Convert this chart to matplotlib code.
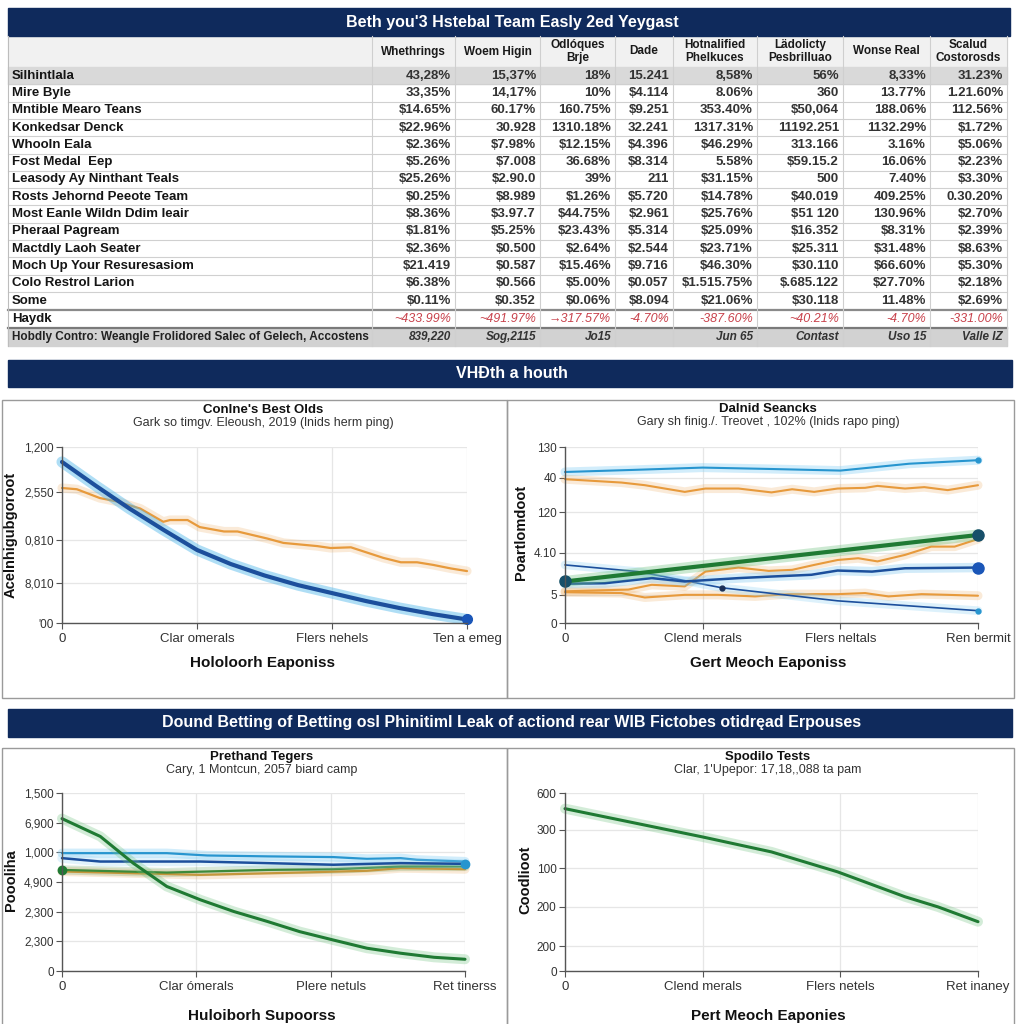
import matplotlib
matplotlib.use("Agg")
import matplotlib.pyplot as plt
from matplotlib.patches import Rectangle

plt.rcParams["font.family"] = ["Liberation Sans Narrow", "Liberation Sans", "DejaVu Sans"]

NAVY = "#0f2a5c"
ORANGE = "#e79a3c"
LBLUE = "#2795cf"
DBLUE = "#1c4f9c"
GREEN = "#1f7a33"

# ---------------- table data ----------------
title_top = "Beth you'3 Hstebal Team Easly 2ed Yeygast"
col_headers = ["Whethrings", "Woem Higin", "Odlóques\nBrje", "Dade",
               "Hotnalified\nPhelkuces", "Lädolicty\nPesbrilluao", "Wonse Real",
               "Scalud\nCostorosds"]
row_labels = ["Silhintlala", "Mire Byle", "Mntible Mearo Teans", "Konkedsar Denck",
              "Whooln Eala", "Fost Medal  Eep", "Leasody Ay Ninthant Teals",
              "Rosts Jehornd Peeote Team", "Most Eanle Wildn Ddim Ieair",
              "Pheraal Pagream", "Mactdly Laoh Seater", "Moch Up Your Resuresasiom",
              "Colo Restrol Larion", "Some"]
table_values = [
    ["43,28%", "15,37%", "18%", "15.241", "8,58%", "56%", "8,33%", "31.23%"],
    ["33,35%", "14,17%", "10%", "$4.114", "8.06%", "360", "13.77%", "1.21.60%"],
    ["$14.65%", "60.17%", "160.75%", "$9.251", "353.40%", "$50,064", "188.06%", "112.56%"],
    ["$22.96%", "30.928", "1310.18%", "32.241", "1317.31%", "11192.251", "1132.29%", "$1.72%"],
    ["$2.36%", "$7.98%", "$12.15%", "$4.396", "$46.29%", "313.166", "3.16%", "$5.06%"],
    ["$5.26%", "$7.008", "36.68%", "$8.314", "5.58%", "$59.15.2", "16.06%", "$2.23%"],
    ["$25.26%", "$2.90.0", "39%", "211", "$31.15%", "500", "7.40%", "$3.30%"],
    ["$0.25%", "$8.989", "$1.26%", "$5.720", "$14.78%", "$40.019", "409.25%", "0.30.20%"],
    ["$8.36%", "$3.97.7", "$44.75%", "$2.961", "$25.76%", "$51 120", "130.96%", "$2.70%"],
    ["$1.81%", "$5.25%", "$23.43%", "$5.314", "$25.09%", "$16.352", "$8.31%", "$2.39%"],
    ["$2.36%", "$0.500", "$2.64%", "$2.544", "$23.71%", "$25.311", "$31.48%", "$8.63%"],
    ["$21.419", "$0.587", "$15.46%", "$9.716", "$46.30%", "$30.110", "$66.60%", "$5.30%"],
    ["$6.38%", "$0.566", "$5.00%", "$0.057", "$1.515.75%", "$.685.122", "$27.70%", "$2.18%"],
    ["$0.11%", "$0.352", "$0.06%", "$8.094", "$21.06%", "$30.118", "11.48%", "$2.69%"],
]
neg_label = "Haydk"
neg_values = ["~433.99%", "~491.97%", "→317.57%", "-4.70%", "-387.60%", "~40.21%",
              "-4.70%", "-331.00%"]
foot_label = "Hobdly Contro: Weangle Frolidored Salec of Gelech, Accostens"
foot_values = ["839,220", "Sog,2115", "Jo15", "", "Jun 65", "Contast", "Uso 15", "Valle IZ"]

banner2 = "VHÐth a houth"
banner3 = ("Dound Betting of Betting osl Phinitiml Leak of actiond rear WIB "
           "Fictobes otidręad Erpouses")

# ---------------- chart data ----------------
x_ticks = [0, 1, 2, 3]

# top left
tl_title = "Conlne's Best Olds"
tl_sub = "Gark so timgv. Eleoush, 2019 (lnids herm ping)"
tl_xlabels = ["0", "Clar omerals", "Flers nehels", "Ten a emeg"]
tl_ytick_pos = [0, 0.227, 0.472, 0.744, 1.0]
tl_ytick_lab = ["'00", "8,010", "0,810", "2,550", "1,200"]
tl_ylabel = "Acelnhigubgoroot"
tl_xlabel = "Hololoorh Eaponiss"
tl_blue_x = [0, 0.25, 0.5, 0.75, 1.0, 1.25, 1.5, 1.75, 2.0, 2.25, 2.5, 2.75, 3.0]
tl_blue_y = [0.915, 0.78, 0.65, 0.53, 0.415, 0.335, 0.27, 0.215, 0.17, 0.125, 0.085, 0.05, 0.02]
tl_orange_x = [0.0, 0.11, 0.28, 0.41, 0.58, 0.75, 0.80, 0.93, 1.02, 1.20, 1.30, 1.52, 1.64,
               1.89, 1.99, 2.14, 2.26, 2.38, 2.51, 2.63, 2.75, 2.88, 3.0]
tl_orange_y = [0.767, 0.76, 0.71, 0.69, 0.65, 0.575, 0.585, 0.585, 0.545, 0.52, 0.52, 0.48,
               0.455, 0.437, 0.426, 0.43, 0.40, 0.37, 0.345, 0.345, 0.33, 0.31, 0.295]

# top right
tr_title = "Dalnid Seancks"
tr_sub = "Gary sh finig./. Treovet , 102% (lnids rapo ping)"
tr_xlabels = ["0", "Clend merals", "Flers neltals", "Ren bermit"]
tr_ytick_pos = [0, 0.16, 0.40, 0.63, 0.824, 1.0]
tr_ytick_lab = ["0", "5", "4.10", "120", "40", "130"]
tr_ylabel = "Poartlomdoot"
tr_xlabel = "Gert Meoch Eaponiss"
tr_lblue_x = [0, 0.5, 1.0, 1.5, 2.0, 2.5, 3.0]
tr_lblue_y = [0.858, 0.870, 0.883, 0.875, 0.866, 0.905, 0.925]
tr_or1_x = [0, 0.41, 0.58, 0.87, 1.02, 1.26, 1.50, 1.65, 1.81, 1.98, 2.18, 2.27, 2.47,
            2.61, 2.78, 3.0]
tr_or1_y = [0.817, 0.798, 0.783, 0.745, 0.764, 0.764, 0.742, 0.760, 0.745, 0.764, 0.768,
            0.779, 0.764, 0.772, 0.755, 0.783]
tr_green_x = [0, 3]
tr_green_y = [0.236, 0.5]
tr_or2_x = [0, 0.46, 0.63, 0.87, 1.02, 1.26, 1.48, 1.65, 1.81, 1.98, 2.13, 2.27, 2.47,
            2.66, 2.83, 3.0]
tr_or2_y = [0.18, 0.19, 0.217, 0.208, 0.292, 0.315, 0.296, 0.302, 0.33, 0.358, 0.368,
            0.35, 0.387, 0.434, 0.434, 0.477]
tr_dblue_x = [0, 0.29, 0.63, 0.87, 1.26, 1.50, 1.79, 1.98, 2.23, 2.47, 3.0]
tr_dblue_y = [0.223, 0.226, 0.255, 0.236, 0.255, 0.264, 0.274, 0.298, 0.292, 0.311, 0.315]
tr_or3_x = [0, 0.41, 0.58, 0.87, 1.11, 1.38, 1.62, 1.98, 2.18, 2.35, 2.59, 2.78, 3.0]
tr_or3_y = [0.175, 0.17, 0.145, 0.16, 0.16, 0.151, 0.164, 0.164, 0.17, 0.151, 0.164,
            0.16, 0.155]
tr_thin_x = [0, 0.53, 1.14, 1.98, 3.0]
tr_thin_y = [0.33, 0.292, 0.2, 0.126, 0.07]

# bottom left
bl_title = "Prethand Tegers"
bl_sub = "Cary, 1 Montcun, 2057 biard camp"
bl_xlabels = ["0", "Clar ómerals", "Plere netuls", "Ret tinerss"]
bl_ytick_pos = [0, 1 / 6, 2 / 6, 3 / 6, 4 / 6, 5 / 6, 1.0]
bl_ytick_lab = ["0", "2,300", "2,300", "4,900", "1,000", "6,900", "1,500"]
bl_ylabel = "Poooliha"
bl_xlabel = "Huloiborh Supoorss"
bl_green_x = [0, 0.285, 0.53, 0.78, 1.03, 1.28, 1.53, 1.77, 2.02, 2.27, 2.52, 2.77, 3.0]
bl_green_y = [0.856, 0.756, 0.606, 0.475, 0.40, 0.334, 0.278, 0.221, 0.174, 0.128, 0.10,
              0.077, 0.066]
bl_lblue_x = [0, 0.78, 1.08, 1.53, 2.02, 2.27, 2.52, 2.64, 3.0]
bl_lblue_y = [0.662, 0.662, 0.649, 0.644, 0.64, 0.63, 0.634, 0.625, 0.615]
bl_dblue_x = [0, 0.285, 1.03, 1.53, 2.02, 2.52, 3.0]
bl_dblue_y = [0.634, 0.615, 0.615, 0.606, 0.597, 0.606, 0.602]
bl_gflat_x = [0, 0.78, 1.53, 2.02, 2.52, 3.0]
bl_gflat_y = [0.568, 0.553, 0.568, 0.572, 0.587, 0.587]
bl_orange_x = [0, 1.03, 1.77, 2.27, 2.52, 3.0]
bl_orange_y = [0.559, 0.54, 0.553, 0.563, 0.578, 0.572]

# bottom right
br_title = "Spodilo Tests"
br_sub = "Clar, 1'Upepor: 17,18,,088 ta pam"
br_xlabels = ["0", "Clend merals", "Flers netels", "Ret inaney"]
br_ytick_pos = [0, 0.14, 0.36, 0.576, 0.794, 1.0]
br_ytick_lab = ["0", "200", "200", "100", "300", "600"]
br_ylabel = "Coodlioot"
br_xlabel = "Pert Meoch Eaponies"
br_green_x = [0, 1.0, 1.5, 1.98, 2.47, 2.71, 3.0]
br_green_y = [0.912, 0.753, 0.669, 0.557, 0.417, 0.36, 0.277]


fig = plt.figure(figsize=(10.24, 10.24), dpi=100)
fig.patch.set_facecolor("white")

bg = fig.add_axes([0, 0, 1, 1])
bg.set_xlim(0, 1024)
bg.set_ylim(1024, 0)
bg.axis("off")


def banner(y0, y1, text, size, x1=1012):
    bg.add_patch(Rectangle((8, y0), x1 - 8, y1 - y0, color=NAVY, zorder=1))
    bg.text(512, (y0 + y1) / 2, text, color="white", fontsize=size, fontweight="bold",
            ha="center", va="center", zorder=2)


# ---------------- table ----------------
banner(8, 36, title_top, 11.5, x1=1010)
dividers = [372, 455, 540, 615, 673, 757, 843, 930, 1007]
head_top, head_bot = 36, 67
row_h = 17.3
bg.add_patch(Rectangle((8, head_top), 999, head_bot - head_top, color="#f1f1f1", zorder=0))
for i, h in enumerate(col_headers):
    cx = (dividers[i] + dividers[i + 1]) / 2
    bg.text(cx, (head_top + head_bot) / 2, h, ha="center", va="center", fontsize=8.5,
            fontweight="bold", color="#1a1a1a", linespacing=1.1)

y = head_bot
for r, lab in enumerate(row_labels):
    if r == 0:
        bg.add_patch(Rectangle((8, y), 999, row_h, color="#d9d9d9", zorder=0))
    bg.plot([8, 1007], [y + row_h, y + row_h], color="#d0d0d0", lw=0.8)
    cy = y + row_h / 2
    bg.text(12, cy, lab, ha="left", va="center", fontsize=9.5, fontweight="bold",
            color="#151515")
    for c, v in enumerate(table_values[r]):
        bg.text(dividers[c + 1] - 4, cy, v, ha="right", va="center", fontsize=9.5,
                fontweight="bold", color="#333333")
    y += row_h

# negative row
bg.plot([8, 1007], [y + 1, y + 1], color="#8a8a8a", lw=1.6)
cy = y + 10
bg.text(12, cy, neg_label, ha="left", va="center", fontsize=9.5, fontweight="bold",
        color="#151515")
for c, v in enumerate(neg_values):
    bg.text(dividers[c + 1] - 4, cy, v, ha="right", va="center", fontsize=9,
            fontstyle="italic", color="#c8414b")
y += 19
bg.add_patch(Rectangle((8, y), 999, 18, color="#d2d2d2", zorder=0))
bg.plot([8, 1007], [y, y], color="#7a7a7a", lw=1.6)
cy = y + 9
bg.text(12, cy, foot_label, ha="left", va="center", fontsize=8.5, fontweight="bold",
        color="#222222")
for c, v in enumerate(foot_values):
    bg.text(dividers[c + 1] - 4, cy, v, ha="right", va="center", fontsize=8.5,
            fontweight="bold", fontstyle="italic", color="#333333")
y += 18
for d in dividers:
    bg.plot([d, d], [head_top, y], color="#cfcfcf", lw=0.8)
bg.plot([8, 8], [head_top, y], color="#bdbdbd", lw=0.8)

banner(360, 387, banner2, 11.5)
banner(709, 737, banner3, 11.5)

# panel boxes
for (x0, y0, x1, y1) in [(2, 400, 507, 698), (507, 400, 1014, 698),
                         (2, 748, 507, 1030), (507, 748, 1014, 1030)]:
    bg.add_patch(Rectangle((x0, y0), x1 - x0, y1 - y0, fill=False, ec="#9a9a9a", lw=1))


def ax_px(x0, y0, x1, y1):
    return fig.add_axes([x0 / 1024, 1 - y1 / 1024, (x1 - x0) / 1024, (y1 - y0) / 1024])


def style(ax, ypos, ylab, xlab):
    ax.set_xlim(0, 3)
    ax.set_ylim(0, 1)
    ax.set_xticks(x_ticks, xlab)
    ax.set_yticks(ypos, ylab)
    ax.grid(True, color="#e6e6e6", lw=0.9)
    ax.set_axisbelow(True)
    for s in ["top", "right"]:
        ax.spines[s].set_visible(False)
    for s in ["left", "bottom"]:
        ax.spines[s].set_color("#555555")
        ax.spines[s].set_linewidth(1.0)
    ax.tick_params(colors="#555555", labelcolor="#333333", labelsize=9.5, length=4, width=0.8)
    ax.tick_params(axis="y", labelsize=8.5, pad=2)
    ax.tick_params(axis="x", pad=3)


def glow(ax, x, y, color, lw, glow_color=None, alpha=0.25, **kw):
    ax.plot(x, y, color=glow_color or color, lw=lw + 5, alpha=alpha,
            solid_capstyle="round", clip_on=False)
    ax.plot(x, y, color=color, lw=lw, solid_capstyle="round", clip_on=False, **kw)


def panel_text(cx, y_title, title, sub, xl_y, xl, yl_x, yl_y, yl):
    bg.text(cx, y_title, title, ha="center", va="center", fontsize=9.5, fontweight="bold",
            color="#111111")
    bg.text(cx, y_title + 13, sub, ha="center", va="center", fontsize=9, color="#333333")
    bg.text(cx, xl_y, xl, ha="center", va="center", fontsize=11, fontweight="bold",
            color="#111111")
    bg.text(yl_x, yl_y, yl, ha="center", va="center", fontsize=10.5, fontweight="bold",
            rotation=90, color="#111111")


# top left
ax1 = ax_px(62, 447, 467, 623)
style(ax1, tl_ytick_pos, tl_ytick_lab, tl_xlabels)
glow(ax1, tl_orange_x, tl_orange_y, ORANGE, 1.6, alpha=0.2)
glow(ax1, tl_blue_x, tl_blue_y, DBLUE, 3.0, glow_color="#4fb6ea", alpha=0.45)
ax1.plot(tl_blue_x[-1], tl_blue_y[-1], "o", color="#1a56b8", ms=7, clip_on=False)
panel_text(263, 410, tl_title, tl_sub, 663, tl_xlabel, 11, 535, tl_ylabel)

# top right
ax2 = ax_px(565, 447, 978, 623)
style(ax2, tr_ytick_pos, tr_ytick_lab, tr_xlabels)
glow(ax2, tr_lblue_x, tr_lblue_y, LBLUE, 1.5, glow_color="#8fd3f5", alpha=0.4)
ax2.plot(tr_lblue_x[-1], tr_lblue_y[-1], "o", color=LBLUE, ms=3.5, clip_on=False)
glow(ax2, tr_or1_x, tr_or1_y, ORANGE, 1.5, alpha=0.2)
glow(ax2, tr_or3_x, tr_or3_y, ORANGE, 1.5, alpha=0.2)
glow(ax2, tr_thin_x, tr_thin_y, DBLUE, 1.2, glow_color="#8fd3f5", alpha=0.3)
ax2.plot(tr_thin_x[-1], tr_thin_y[-1], "o", color=LBLUE, ms=3.5, clip_on=False)
ax2.plot(tr_thin_x[2], tr_thin_y[2], "o", color="#1b2f55", ms=3.5, clip_on=False)
glow(ax2, tr_or2_x, tr_or2_y, ORANGE, 1.5, alpha=0.2)
glow(ax2, tr_dblue_x, tr_dblue_y, DBLUE, 1.8, glow_color="#7fc7ef", alpha=0.35)
ax2.plot(tr_dblue_x[-1], tr_dblue_y[-1], "o", color="#1a56b8", ms=8, clip_on=False)
glow(ax2, tr_green_x, tr_green_y, GREEN, 3.0, glow_color="#6fc27f", alpha=0.35)
ax2.plot(tr_green_x, tr_green_y, "o", color="#17506a", ms=8, clip_on=False)
panel_text(768, 409, tr_title, tr_sub, 663, tr_xlabel, 521, 532, tr_ylabel)

# bottom left
ax3 = ax_px(62, 793, 465, 971)
style(ax3, bl_ytick_pos, bl_ytick_lab, bl_xlabels)
glow(ax3, bl_orange_x, bl_orange_y, ORANGE, 1.6, alpha=0.2)
glow(ax3, bl_gflat_x, bl_gflat_y, "#3d8a3a", 1.6, alpha=0.2)
ax3.plot(bl_gflat_x[0], bl_gflat_y[0], "o", color=GREEN, ms=6, clip_on=False)
glow(ax3, bl_lblue_x, bl_lblue_y, LBLUE, 1.6, glow_color="#8fd3f5", alpha=0.4)
glow(ax3, bl_dblue_x, bl_dblue_y, DBLUE, 1.8, glow_color="#8fd3f5", alpha=0.25)
ax3.plot(bl_dblue_x[-1], bl_dblue_y[-1], "o", color=LBLUE, ms=6, clip_on=False)
glow(ax3, bl_green_x, bl_green_y, GREEN, 2.2, glow_color="#6fc27f", alpha=0.3)
panel_text(262, 757, bl_title, bl_sub, 1016, bl_xlabel, 11, 880, bl_ylabel)

# bottom right
ax4 = ax_px(565, 793, 978, 971)
style(ax4, br_ytick_pos, br_ytick_lab, br_xlabels)
glow(ax4, br_green_x, br_green_y, GREEN, 2.2, glow_color="#6fc27f", alpha=0.3)
panel_text(768, 757, br_title, br_sub, 1016, br_xlabel, 525, 880, br_ylabel)

fig.savefig("out.png", dpi=100, facecolor="white")
